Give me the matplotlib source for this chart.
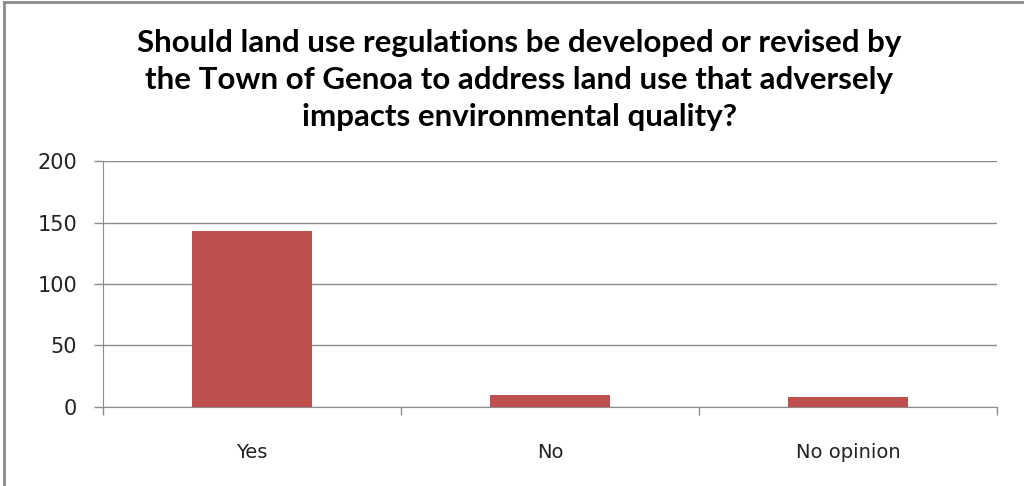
import matplotlib.pyplot as plt
import numpy as np

categories = ["Yes", "No", "No opinion"]
counts = [143, 10, 8]
yticks = [0, 50, 100, 150, 200]
title = ("Should land use regulations be developed or revised by\n"
         "the Town of Genoa to address land use that adversely\n"
         "impacts environmental quality?")

fig = plt.figure(figsize=(10.24, 4.86), dpi=100)
ax = fig.add_axes([0.1006, 0.1626, 0.8730, 0.5061])

x = np.arange(len(categories))
ax.bar(x, counts, width=0.4, color="#C0504D", zorder=3)

ax.set_xlim(-0.5, len(categories) - 0.5)
ax.set_ylim(0, 200)
ax.set_yticks(yticks)
ax.set_yticklabels([str(v) for v in yticks], fontsize=15, color="#222222")
ax.yaxis.grid(True, color="#8c8c8c", linewidth=1, zorder=0)
ax.tick_params(axis="y", length=6.5, width=1, color="#8c8c8c", pad=12)

# category labels without ticks, ticks at the boundaries
ax.set_xticks(x)
ax.set_xticklabels(categories, fontsize=14, color="#222222")
ax.tick_params(axis="x", which="major", length=0, pad=26)
ax.set_xticks(np.arange(len(categories) + 1) - 0.5, minor=True)
ax.tick_params(axis="x", which="minor", length=6, width=1, color="#8c8c8c")

for side in ["top", "right"]:
    ax.spines[side].set_visible(False)
for side in ["left", "bottom"]:
    ax.spines[side].set_color("#8c8c8c")

fig.text(0.507, 0.94, title, ha="center", va="top", fontsize=22.5,
         fontweight="bold", family="Lato", linespacing=1.38)

# chart frame edges (left and top)
fig.add_artist(plt.Line2D([0.004, 0.004], [0, 0.996], color="#8c8c8c", linewidth=2))
fig.add_artist(plt.Line2D([0.004, 1], [0.996, 0.996], color="#8c8c8c", linewidth=2))

fig.savefig("out.png", dpi=100)
